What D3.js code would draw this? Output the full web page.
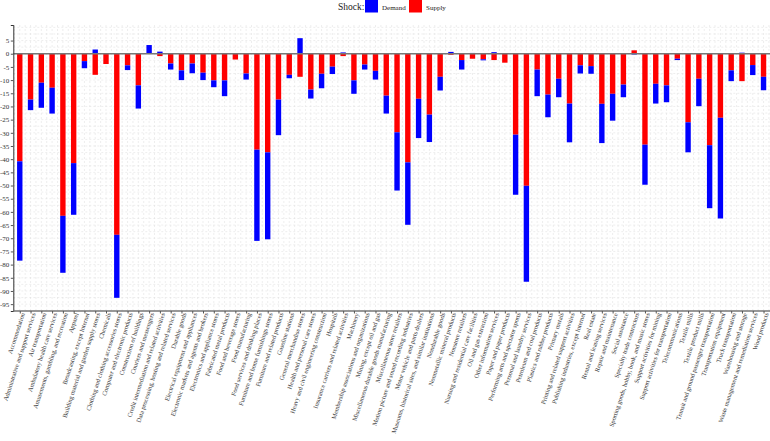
<!DOCTYPE html>
<html><head><meta charset="utf-8">
<script src="https://cdn.jsdelivr.net/npm/d3@7"></script>
<style>body{margin:0;background:#fff}svg{display:block}text{font-family:"Liberation Serif","Times New Roman",serif}</style>
</head><body>
<svg id="c" width="770" height="441"></svg>
<script>
const categories = ["Accommodation","Administrative and support services","Air transportation","Ambulatory health care services","Amusements, gambling, and recreation","Apparel","Broadcasting, except Internet","Building material and garden supply stores","Chemicals","Clothing and clothing accessories stores","Computer and electronic products","Construction of buildings","Couriers and messengers","Credit intermediation and related activities","Data processing, hosting and related services","Durable goods","Electrical equipment and appliances","Electronic markets and agents and brokers","Electronics and appliance stores","Fabricated metal products","Food and beverage stores","Food manufacturing","Food services and drinking places","Furniture and home furnishings stores","Furniture and related products","Gasoline stations","General merchandise stores","Health and personal care stores","Heavy and civil engineering construction","Hospitals","Insurance carriers and related activities","Machinery","Membership associations and organizations","Mining, except oil and gas","Miscellaneous durable goods manufacturing","Miscellaneous store retailers","Motion picture and sound recording industries","Motor vehicle and parts dealers","Museums, historical sites, and similar institutions","Nondurable goods","Nonmetallic mineral products","Nonstore retailers","Nursing and residential care facilities","Oil and gas extraction","Other information services","Paper and paper products","Performing arts and spectator sports","Personal and laundry services","Petroleum and coal products","Plastics and rubber products","Primary metals","Printing and related support activities","Publishing industries, except Internet","Real estate","Rental and leasing services","Repair and maintenance","Social assistance","Specialty trade contractors","Sporting goods, hobby, book, and music stores","Support activities for mining","Support activities for transportation","Telecommunications","Textile mills","Textile product mills","Transit and ground passenger transportation","Transportation equipment","Truck transportation","Warehousing and storage","Waste management and remediation services","Wood products"];

const supply = [-40.8,-17.4,-11.0,-12.9,-61.5,-41.5,-2.8,-8.0,-3.9,-68.7,-4.4,-12.0,0,-0.9,-3.7,-6.3,-3.7,-7.2,-10.1,-10.1,-2.2,-7.5,-36.4,-37.4,-17.4,-8.0,-8.75,-13.6,-7.6,-4.9,-0.9,-10.1,-4.1,-6.5,-15.9,-29.8,-41.2,-17.1,-23.1,-8.75,-0.4,-2.4,-1.9,-2.1,-2.4,-3.4,-30.7,-50.1,-6.0,-15.5,-9.5,-18.9,-4.4,-4.7,-19.0,-15.2,-11.7,1.3,-34.5,-11.4,-12.0,-1.9,-26.0,-9.5,-34.7,-24.3,-6.3,-10.4,-4.3,-8.75];

const demand = [-37.7,-4.0,-9.5,-9.8,-21.6,-19.6,-2.7,1.6,0,-23.9,-1.8,-8.8,3.3,0.8,-2.3,-3.7,-3.7,-2.8,-2.6,-6.0,0,-2.3,-34.6,-33.0,-13.5,-1.3,5.9,-3.4,-5.5,-2.8,0.5,-5.1,-1.9,-3.3,-6.8,-22.1,-23.7,-14.9,-10.4,-5.2,0.7,-3.6,0.3,-0.4,0.6,0,-22.8,-36.4,-10.1,-8.6,-7.0,-14.7,-3.1,-2.9,-14.9,-10.2,-4.8,-0.3,-15.2,-7.5,-6.4,-0.5,-11.4,-10.4,-23.9,-38.2,-4.1,0.4,-3.8,-5.1];

const yTicks = [5,0,-5,-10,-15,-20,-25,-30,-35,-40,-45,-50,-55,-60,-65,-70,-75,-80,-85,-90,-95];
const seriesNames = ["Demand","Supply"];
const seriesColors = ["#0000ff","#ff0000"];

const svg = d3.select("#c");
const L = 13.3, R = 770, T = 25, B = 311;

const n = categories.length;
const x = d3.scalePoint().domain(categories).range([L + (R-L)*0.6/(n-1+1.2), R - (R-L)*0.6/(n-1+1.2)]);
const step = x.step();
const y = d3.scaleLinear().domain([-97.6, 10.9]).range([B, T]);

// grid
const g = svg.append("g");
const minorY = d3.range(10, -97.6, -2.5);
g.selectAll("line.hy").data(minorY).join("line")
  .attr("x1", L).attr("x2", R).attr("y1", d=>y(d)).attr("y2", d=>y(d))
  .attr("stroke", "#dcdcdc").attr("stroke-width", 0.5).attr("stroke-dasharray", "2,2");
const vx = [];
categories.forEach((c,i)=>{ vx.push(x(c)); vx.push(x(c)+step/2); });
vx.push(x(categories[0]) - step/2);
g.selectAll("line.vx").data(vx.filter(v=>v>L && v<R)).join("line")
  .attr("x1", d=>d).attr("x2", d=>d).attr("y1", T).attr("y2", B)
  .attr("stroke", "#dcdcdc").attr("stroke-width", 0.5).attr("stroke-dasharray", "2,2");

// stacked bars: supply nearest zero, demand beyond
const rows = categories.map((c,i)=>({cat:c, Supply:supply[i], Demand:demand[i]}));
const stack = d3.stack().keys(["Supply","Demand"]).offset(d3.stackOffsetDiverging)(rows);
const color = d3.scaleOrdinal().domain(seriesNames).range(seriesColors);
const bw = step*0.5;
svg.append("g").selectAll("g").data(stack).join("g")
  .attr("fill", d=>color(d.key))
  .selectAll("rect").data(d=>d).join("rect")
  .attr("x", d=>x(d.data.cat)-bw/2).attr("width", bw)
  .attr("y", d=>y(Math.max(d[0],d[1])))
  .attr("height", d=>Math.abs(y(d[0])-y(d[1])));

// zero line
svg.append("line").attr("x1", L).attr("x2", R).attr("y1", y(0)).attr("y2", y(0))
  .attr("stroke", "#777").attr("stroke-width", 1.3);

// axes
const yAxis = svg.append("g").attr("transform", `translate(${L},0)`)
  .call(d3.axisLeft(y).tickValues(yTicks).tickSize(2.5).tickPadding(1.5).tickFormat(d=>String(d)));
yAxis.select(".domain").attr("stroke", "#333").attr("stroke-width", 1);
yAxis.selectAll(".tick line").attr("stroke", "#555");
yAxis.selectAll("text").attr("font-size", 7).attr("fill", "#333");

const xAxis = svg.append("g").attr("transform", `translate(0,${B})`)
  .call(d3.axisBottom(x).tickSize(2.5).tickSizeOuter(0));
xAxis.select(".domain").attr("stroke", "#777").attr("stroke-width", 1.3).attr("d", `M${L},0H${R}`);
xAxis.selectAll(".tick line").attr("stroke", "#555");
xAxis.selectAll("text")
  .attr("font-size", 6.4).attr("fill", "#333")
  .attr("text-anchor", "end")
  .attr("transform", "translate(2.5,2) rotate(-72)")
  .attr("x", 0).attr("y", 0).attr("dy", "0.35em");

// legend
const lg = svg.append("g");
lg.append("text").attr("x", 338).attr("y", 10).attr("font-size", 9.5).attr("fill", "#222").text("Shock:");
const lx = [365, 409];
seriesNames.forEach((s,i)=>{
  lg.append("rect").attr("x", lx[i]).attr("y", 0).attr("width", 13).attr("height", 12.5).attr("fill", color(s));
  lg.append("text").attr("x", lx[i]+17).attr("y", 9.5).attr("font-size", 7).attr("fill", "#222").text(s);
});
</script>
</body></html>
